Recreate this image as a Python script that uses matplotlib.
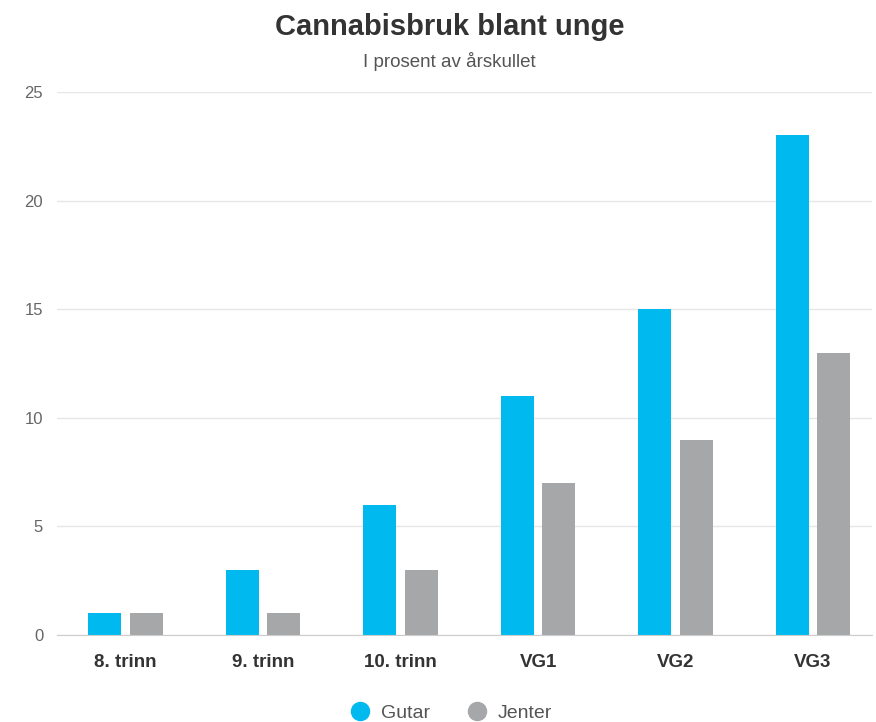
import matplotlib
import matplotlib.pyplot as plt
import numpy as np
from matplotlib.lines import Line2D

matplotlib.use("Agg")
plt.rcParams["font.family"] = ["Liberation Sans", "DejaVu Sans"]

categories = ["8. trinn", "9. trinn", "10. trinn", "VG1", "VG2", "VG3"]
gutar = [1, 3, 6, 11, 15, 23]
jenter = [1, 1, 3, 7, 9, 13]
series_names = ["Gutar", "Jenter"]
y_ticks = [0, 5, 10, 15, 20, 25]

BLUE = "#00b9ef"
GREY = "#a6a7a9"

fig = plt.figure(figsize=(8.76, 7.22), dpi=100)
ax = fig.add_axes([0.0651, 0.1205, 0.9304, 0.7521])

x = np.arange(len(categories))
ax.bar(x - 0.152, gutar, width=0.24, color=BLUE, zorder=3)
ax.bar(x + 0.150, jenter, width=0.24, color=GREY, zorder=3)

ax.set_xlim(-0.5, 5.43)
ax.set_ylim(0, 25)
ax.set_yticks(y_ticks)
ax.set_yticklabels([str(v) for v in y_ticks], color="#666666", fontsize=12)
ax.tick_params(axis="y", length=0, pad=10)
ax.set_xticks(x)
ax.set_xticklabels(categories, fontsize=13.5, fontweight="bold", color="#333333")
ax.tick_params(axis="x", length=0, pad=14)

ax.grid(axis="y", color="#e6e6e6", linewidth=1, zorder=0)
for side in ["top", "right", "left"]:
    ax.spines[side].set_visible(False)
ax.spines["bottom"].set_color("#cccccc")
ax.spines["bottom"].set_zorder(4)

# title block sits centred a little right of the figure middle
cx = 0.513
fig.text(cx, 0.963, "Cannabisbruk blant unge", ha="center", va="center",
         fontsize=21, fontweight="bold", color="#333333")
fig.text(cx, 0.915, "I prosent av årskullet", ha="center", va="center",
         fontsize=13.5, color="#555555")

handles = [Line2D([], [], marker="o", linestyle="", markersize=13, color=c)
           for c in (BLUE, GREY)]
fig.legend(handles, series_names, loc="center", bbox_to_anchor=(0.515, 0.012),
           ncol=2, frameon=False, fontsize=14, handlelength=1.0,
           handletextpad=0.6, columnspacing=1.9, labelcolor="#555555")

fig.savefig("out.png", dpi=100)
